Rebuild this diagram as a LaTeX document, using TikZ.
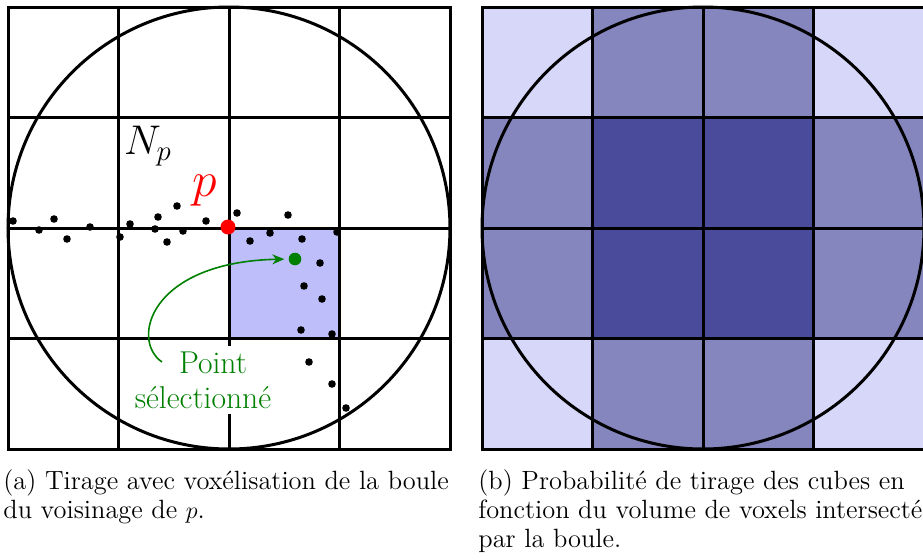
\documentclass[tikz,border=0pt]{standalone}
\usepackage{fontspec}
\usetikzlibrary{arrows.meta}
\definecolor{cellA}{RGB}{190,190,250}
\definecolor{vlight}{RGB}{215,215,250}
\definecolor{vmid}{RGB}{134,134,190}
\definecolor{vdark}{RGB}{75,75,155}
\definecolor{selgreen}{RGB}{0,128,0}
\tikzset{
  gridline/.style={line width=1.5pt, line cap=rect},
  ballline/.style={line width=1.5pt},
  sample/.style={fill=black},
  captxt/.style={inner sep=0pt, anchor=base west, font=\fontsize{13.2}{14.25}\selectfont},
}
\begin{document}
\begin{tikzpicture}[x=0.5pt,y=-0.5pt]
\useasboundingbox (0,0) rectangle (923,559);
\fill[white] (0,0) rectangle (923,559);
% ---------------- panel (a) ----------------
\fill[cellA] (229,228) rectangle (339.5,338.5);
\foreach \v in {8,118.5,229,339.5,450} {
  \draw[gridline] (\v,7) -- (\v,449);
  \draw[gridline] (8,\v-1) -- (450,\v-1);
}
\draw[ballline] (229,228) circle[radius=110.5pt];
\foreach \px/\py in {13/221,39/230,54/219,67/239,90/227,120/237,130/224,155/229,158/217,167/242,177/206,183/231,206/221,237/213,288/215,270/233,250/241,302/239,337/232,320/263,304/286,322/299,301/330,332/334,309/362,332/384,346/408}
  \fill[sample] (\px,\py) circle[radius=1.9pt];
\node[circle, fill=red, inner sep=0pt, minimum size=7.5pt] (pt) at (228,227) {};
\node[text=red, inner sep=0pt, font=\fontsize{33}{36}\selectfont] (plab) at (205,191) {$p$};
\node[inner sep=0pt, font=\fontsize{19.4}{22}\selectfont] (np) at (148,146) {$N_p$};
\node[fill=white, text=selgreen, align=center, inner sep=3pt,
      font=\fontsize{15.8}{17.5}\selectfont] (lbl) at (203,380) {\hspace*{10pt}Point\\sélectionné};
\node[circle, fill=selgreen, inner sep=0pt, minimum size=6.3pt] (gp) at (295,259) {};
\coordinate (astart) at (162,362);
\draw[selgreen, line width=0.8pt, -{Stealth[length=6pt,width=5pt]}, shorten >=2pt]
  (astart) .. controls (130,340) and (150,262) .. (gp.west);
% ---------------- panel (b) ----------------
\foreach \c [count=\i from 0] in {vlight,vmid,vmid,vlight} \fill[\c] (482+110.5*\i,7) rectangle ++(110.5,110.5);
\foreach \c [count=\i from 0] in {vmid,vdark,vdark,vmid} \fill[\c] (482+110.5*\i,117.5) rectangle ++(110.5,110.5);
\foreach \c [count=\i from 0] in {vmid,vdark,vdark,vmid} \fill[\c] (482+110.5*\i,228) rectangle ++(110.5,110.5);
\foreach \c [count=\i from 0] in {vlight,vmid,vmid,vlight} \fill[\c] (482+110.5*\i,338.5) rectangle ++(110.5,110.5);
\foreach \v in {482,592.5,703,813.5,924} {
  \draw[gridline] (\v,7) -- (\v,449);
}
\foreach \v in {7,117.5,228,338.5,449} {
  \draw[gridline] (482,\v) -- (924,\v);
}
\draw[ballline] (703,228) circle[radius=110.5pt];
% ---------------- captions ----------------
\node[captxt] (capa1) at (3,489) {(a) Tirage avec voxélisation de la boule};
\node[captxt] (capa2) at (3,518) {du voisinage de $p$.};
\node[captxt] (capb1) at (478,489) {(b) Probabilité de tirage des cubes en};
\node[captxt] (capb2) at (478,518) {fonction du volume de voxels intersectés};
\node[captxt] (capb3) at (478,547) {par la boule.};
\end{tikzpicture}
\end{document}
